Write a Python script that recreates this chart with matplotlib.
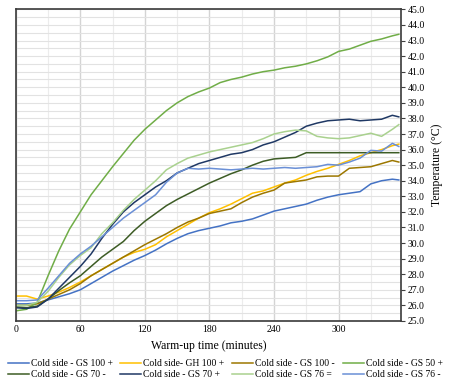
import matplotlib
matplotlib.use("Agg")
import matplotlib.pyplot as plt
import numpy as np

plt.rcParams['font.family'] = ['Liberation Serif', 'DejaVu Serif']

# warm-up time (minutes)
t = [0, 10, 20, 30, 40, 50, 60, 70, 80, 90, 100, 110, 120, 130, 140, 150, 160, 170,
     180, 190, 200, 210, 220, 230, 240, 250, 260, 270, 280, 290, 300, 310, 320, 330,
     340, 350, 356]

gs100_plus = [26.1, 26.1, 26.15, 26.35, 26.55, 26.75, 27.0, 27.4, 27.8, 28.2, 28.55, 28.9,
              29.2, 29.55, 29.95, 30.3, 30.6, 30.8, 30.95, 31.1, 31.3, 31.4, 31.55, 31.8,
              32.05, 32.2, 32.35, 32.5, 32.75, 32.95, 33.1, 33.2, 33.3, 33.8, 34.0, 34.1, 34.05]
gh100_plus = [26.6, 26.6, 26.4, 26.6, 26.85, 27.15, 27.5, 27.9, 28.3, 28.7, 29.1, 29.4,
              29.6, 29.9, 30.4, 30.8, 31.2, 31.6, 31.95, 32.2, 32.5, 32.85, 33.2, 33.35,
              33.6, 33.85, 34.05, 34.35, 34.6, 34.8, 35.05, 35.3, 35.6, 35.8, 36.0, 36.25, 36.35]
gs100_minus = [26.0, 26.0, 26.1, 26.4, 26.7, 27.0, 27.4, 27.9, 28.3, 28.7, 29.1, 29.5,
               29.9, 30.25, 30.6, 31.0, 31.35, 31.6, 31.9, 32.05, 32.2, 32.6, 32.95, 33.2,
               33.4, 33.85, 33.95, 34.05, 34.25, 34.3, 34.3, 34.8, 34.85, 34.9, 35.1, 35.3, 35.2]
gs50_plus = [25.65, 25.75, 26.2, 27.9, 29.5, 30.9, 32.0, 33.1, 34.0, 34.9, 35.75, 36.6,
             37.3, 37.9, 38.5, 39.0, 39.4, 39.7, 39.95, 40.3, 40.5, 40.65, 40.85, 41.0,
             41.1, 41.25, 41.35, 41.5, 41.7, 41.95, 42.3, 42.45, 42.7, 42.95, 43.1, 43.3, 43.4]
gs70_minus = [25.9, 25.85, 25.95, 26.4, 26.95, 27.45, 27.9, 28.5, 29.1, 29.6, 30.1, 30.8,
              31.4, 31.9, 32.4, 32.8, 33.15, 33.5, 33.85, 34.15, 34.45, 34.7, 35.0, 35.25,
              35.4, 35.45, 35.5, 35.8, 35.8, 35.8, 35.8, 35.8, 35.8, 35.8, 35.8, 35.8, 35.8]
gs70_plus = [25.85, 25.8, 25.9, 26.4, 27.1, 27.8, 28.5, 29.3, 30.3, 31.2, 32.0, 32.6,
             33.1, 33.6, 34.0, 34.5, 34.8, 35.1, 35.3, 35.5, 35.7, 35.8, 36.0, 36.3,
             36.5, 36.8, 37.1, 37.5, 37.7, 37.85, 37.9, 37.95, 37.85, 37.9, 37.95, 38.2, 38.1]
gs76_eq = [26.0, 26.0, 26.2, 26.9, 27.8, 28.6, 29.2, 29.7, 30.6, 31.3, 32.1, 32.8,
           33.4, 34.0, 34.7, 35.1, 35.45, 35.65, 35.85, 36.0, 36.15, 36.3, 36.45, 36.7,
           37.0, 37.15, 37.25, 37.2, 36.85, 36.75, 36.7, 36.75, 36.9, 37.05, 36.85, 37.3, 37.6]
gs76_minus = [26.3, 26.3, 26.35, 27.1, 27.9, 28.7, 29.3, 29.8, 30.4, 31.0, 31.6, 32.1,
              32.6, 33.1, 33.9, 34.5, 34.8, 34.75, 34.8, 34.75, 34.7, 34.75, 34.8, 34.75,
              34.8, 34.85, 34.8, 34.85, 34.9, 35.05, 35.0, 35.2, 35.45, 35.95, 35.9, 36.4, 36.2]

series = [
    ("Cold side - GS 100 +", gs100_plus, "#4472C4"),
    ("Cold side- GH 100 +", gh100_plus, "#FFC000"),
    ("Cold side - GS 100 -", gs100_minus, "#9C7700"),
    ("Cold side - GS 50 +", gs50_plus, "#70AD47"),
    ("Cold side - GS 70 -", gs70_minus, "#3D5C25"),
    ("Cold side - GS 70 +", gs70_plus, "#1F3864"),
    ("Cold side - GS 76 =", gs76_eq, "#A9D18E"),
    ("Cold side - GS 76 -", gs76_minus, "#6A8FD6"),
]

fig = plt.figure(figsize=(4.5, 3.9), dpi=100)
ax = fig.add_axes([0.035, 0.177, 0.856, 0.799])

lines = {}
for name, vals, col in series:
    lines[name], = ax.plot(t, vals, color=col, lw=1.1, label=name)

ax.set_xlim(0, 358)
ax.set_ylim(25, 45)
ax.set_xticks([0, 60, 120, 180, 240, 300])
ax.set_xticks([30, 90, 150, 210, 270, 330], minor=True)
ax.set_yticks(np.arange(25, 45.1, 1))
ax.set_yticks(np.arange(25.5, 45, 1), minor=True)
ax.set_yticklabels(["%.1f" % v for v in np.arange(25, 45.1, 1)])

ax.grid(which='major', axis='x', color='#d4d4d4', lw=1.0)
ax.grid(which='minor', axis='x', color='#ececec', lw=0.8)
ax.grid(which='both', axis='y', color='#e2e2e2', lw=0.8)
ax.set_axisbelow(True)

ax.yaxis.tick_right()
ax.yaxis.set_label_position('right')
ax.tick_params(axis='y', which='major', direction='out', length=3, width=0.8,
               color='#404040', labelsize=7, pad=2)
ax.tick_params(axis='y', which='minor', length=0)
ax.tick_params(axis='x', which='both', length=0, labelsize=7, pad=3)

for s in ax.spines.values():
    s.set_color('#3a3a3a')
    s.set_linewidth(1.2)

ax.set_xlabel("Warm-up time (minutes)", fontsize=8.5, labelpad=4)
ax.set_ylabel("Temperature (°C)", fontsize=8.5, labelpad=4)

order = ["Cold side - GS 100 +", "Cold side - GS 70 -",
         "Cold side- GH 100 +", "Cold side - GS 70 +",
         "Cold side - GS 100 -", "Cold side - GS 76 =",
         "Cold side - GS 50 +", "Cold side - GS 76 -"]
fig.legend([lines[n] for n in order], order, ncol=4, loc='lower center',
           bbox_to_anchor=(0.5, 0.005), frameon=False, fontsize=6.9,
           handlelength=2.2, handletextpad=0.2, columnspacing=0.8, labelspacing=0.25)

fig.savefig("out.png", dpi=100)
